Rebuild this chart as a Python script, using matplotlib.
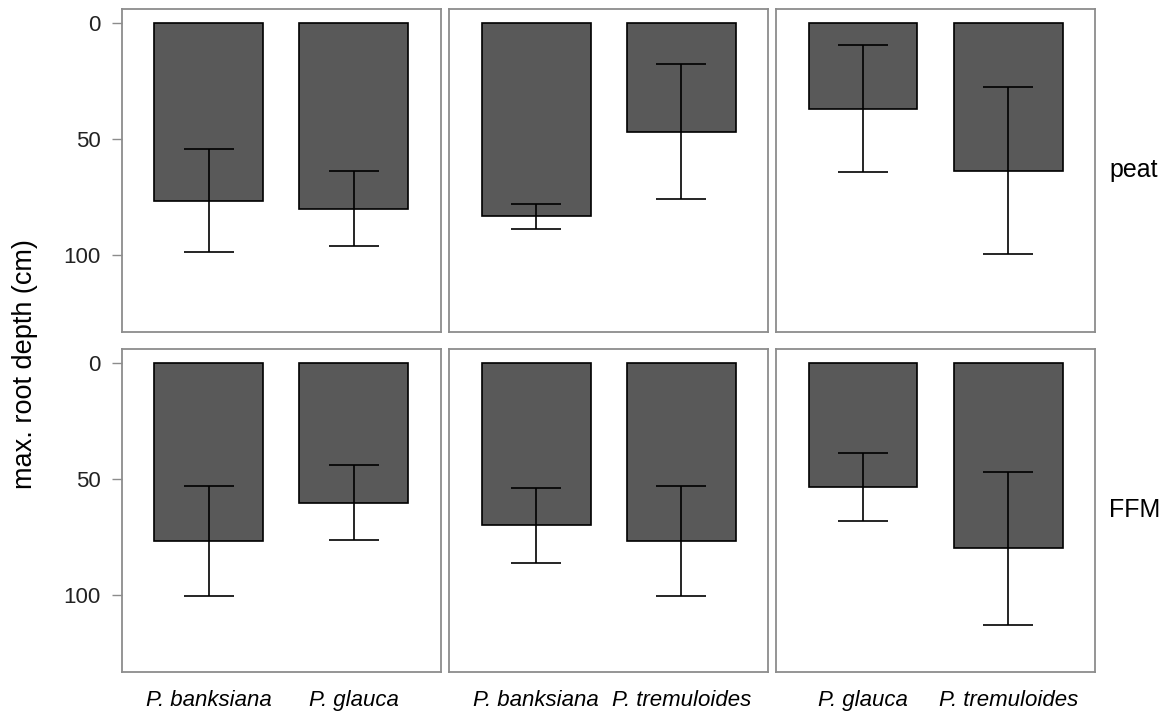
import numpy as np
import matplotlib.pyplot as plt

plt.rcParams['font.family'] = ['Liberation Sans', 'DejaVu Sans']

# species pairs shown in each column of panels
pairs = [
    ["P. banksiana", "P. glauca"],
    ["P. banksiana", "P. tremuloides"],
    ["P. glauca", "P. tremuloides"],
]
substrates = ["peat", "FFM"]

# mean max. root depth (cm), rows = substrate, columns = pair
depth_mean = {
    "peat": [[76.5, 80.0], [83.3, 46.8], [36.9, 63.6]],
    "FFM": [[76.6, 60.2], [70.0, 76.6], [53.5, 79.8]],
}
# standard error around each mean
depth_se = {
    "peat": [[22.2, 16.3], [5.4, 29.2], [27.3, 36.1]],
    "FFM": [[23.8, 16.2], [16.2, 23.8], [14.7, 33.0]],
}

bar_color = "#595959"
frame_color = "#8c8c8c"
text_color = "#222222"

fig = plt.figure(figsize=(11.69, 7.17), dpi=100)

lefts = [0.1041, 0.3841, 0.6638]
bottoms = [0.537, 0.0628]
w, h = 0.2731, 0.451

for r, sub in enumerate(substrates):
    for c, names in enumerate(pairs):
        ax = fig.add_axes([lefts[c], bottoms[r], w, h])
        x = np.arange(1, len(names) + 1)
        ax.bar(x, depth_mean[sub][c], width=0.75, color=bar_color,
               edgecolor="black", linewidth=1.2, zorder=2)
        ax.errorbar(x, depth_mean[sub][c], yerr=depth_se[sub][c], fmt="none",
                    ecolor="black", elinewidth=1.2, capsize=18, capthick=1.2, zorder=3)
        ax.set_xlim(0.4, 2.6)
        ax.set_ylim(133.2, -6.3)
        ax.set_yticks([0, 50, 100])
        for s in ax.spines.values():
            s.set_color(frame_color)
            s.set_linewidth(1.3)
        ax.tick_params(axis="y", length=7, width=1, color=frame_color,
                       labelsize=16, labelcolor=text_color, pad=8)
        if c > 0:
            ax.tick_params(axis="y", left=False, labelleft=False)
        if r == 1:
            ax.set_xticks(x)
            ax.set_xticklabels(names, style="italic", fontsize=16, color="black")
            ax.tick_params(axis="x", length=0, pad=13)
        else:
            ax.set_xticks([])
        if c == 2:
            # facet strip label on the right
            ax.text(1.122, 0.5, sub, transform=ax.transAxes, fontsize=18,
                    va="center", ha="center", color="black")

fig.text(0.0214, 0.492, "max. root depth (cm)", rotation=90, va="center",
         ha="center", fontsize=19.5, color="black")

fig.savefig("out.png", dpi=100)
